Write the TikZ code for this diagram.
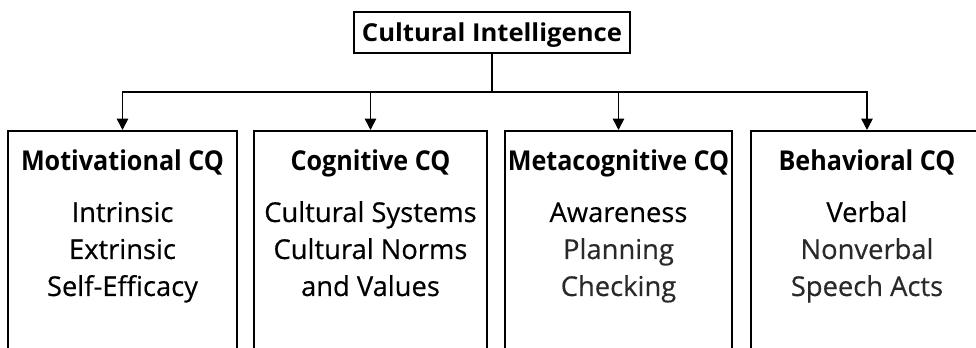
\documentclass[tikz,border=0pt]{standalone}
\usepackage{fontspec}
\setmainfont{Open Sans}
\newfontfamily\headfont{Open Sans}[FakeStretch=0.92]
\newfontfamily\titlefont{Open Sans}[FakeStretch=1.04]
\newfontfamily\itemfont{Open Sans}[FakeBold=0.4]
\usetikzlibrary{arrows.meta}
\definecolor{soft}{gray}{0.16}
\begin{document}
\begin{tikzpicture}[x=0.75pt,y=-0.75pt,
  line width=1.2pt,
  topbox/.style={draw, rectangle, inner sep=0pt, minimum width=207pt,
    text height=22.5pt, text depth=8.25pt,
    font=\titlefont\bfseries\fontsize{18.5}{20}\selectfont},
  catbox/.style={draw, rectangle, inner sep=0pt, anchor=north, minimum height=200pt},
  head/.style={font=\headfont\bfseries\fontsize{20.5}{22}\selectfont, anchor=base, inner sep=0pt},
  item/.style={font=\itemfont\fontsize{20.5}{22}\selectfont, anchor=base, inner sep=0pt},
  dim/.style={text=soft},
  arr/.style={-{Triangle[width=8.5pt,length=8.5pt]}}
]
\useasboundingbox (0,0) rectangle (976,348);
\clip (0,0) rectangle (976,348);
% top
\node[topbox] (ci) at (492,32.5) {Cultural Intelligence};
\coordinate (bus) at (ci.south |- 0,92);
% category boxes
\node[catbox, minimum width=171.75pt] (mot) at (122.5,130) {};
\node[catbox, minimum width=174.75pt] (cog) at (370.5,130) {};
\node[catbox, minimum width=170.25pt] (met) at (618.5,130) {};
\node[catbox, minimum width=174pt] (beh) at (867,130) {};
% connectors
\draw (ci.south) -- (bus);
\draw[arr] (bus) -| (mot.north);
\draw[arr] (bus) -| (cog.north);
\draw[arr] (bus) -| (met.north);
\draw[arr] (bus) -| (beh.north);
% headings
\node[head] (motH) at (122.5,171) {Motivational CQ};
\node[head] (cogH) at (370.5,171) {Cognitive CQ};
\node[head] (metH) at (618.5,171) {Metacognitive CQ};
\node[head] (behH) at (867,171) {Behavioral CQ};
% items
\node[item] (m1) at (122.5,222) {Intrinsic};
\node[item] (m2) at (122.5,259) {Extrinsic};
\node[item] (m3) at (122.5,296) {Self-Efficacy};
\node[item] (c1) at (370.5,222) {Cultural Systems};
\node[item] (c2) at (370.5,259) {Cultural Norms};
\node[item] (c3) at (370.5,296) {and Values};
\node[item] (t1) at (618.5,222) {Awareness};
\node[item,dim] (t2) at (618.5,259) {Planning};
\node[item,dim] (t3) at (618.5,296) {Checking};
\node[item] (b1) at (867,222) {Verbal};
\node[item,dim] (b2) at (867,259) {Nonverbal};
\node[item,dim] (b3) at (867,296) {Speech Acts};
\end{tikzpicture}
\end{document}
